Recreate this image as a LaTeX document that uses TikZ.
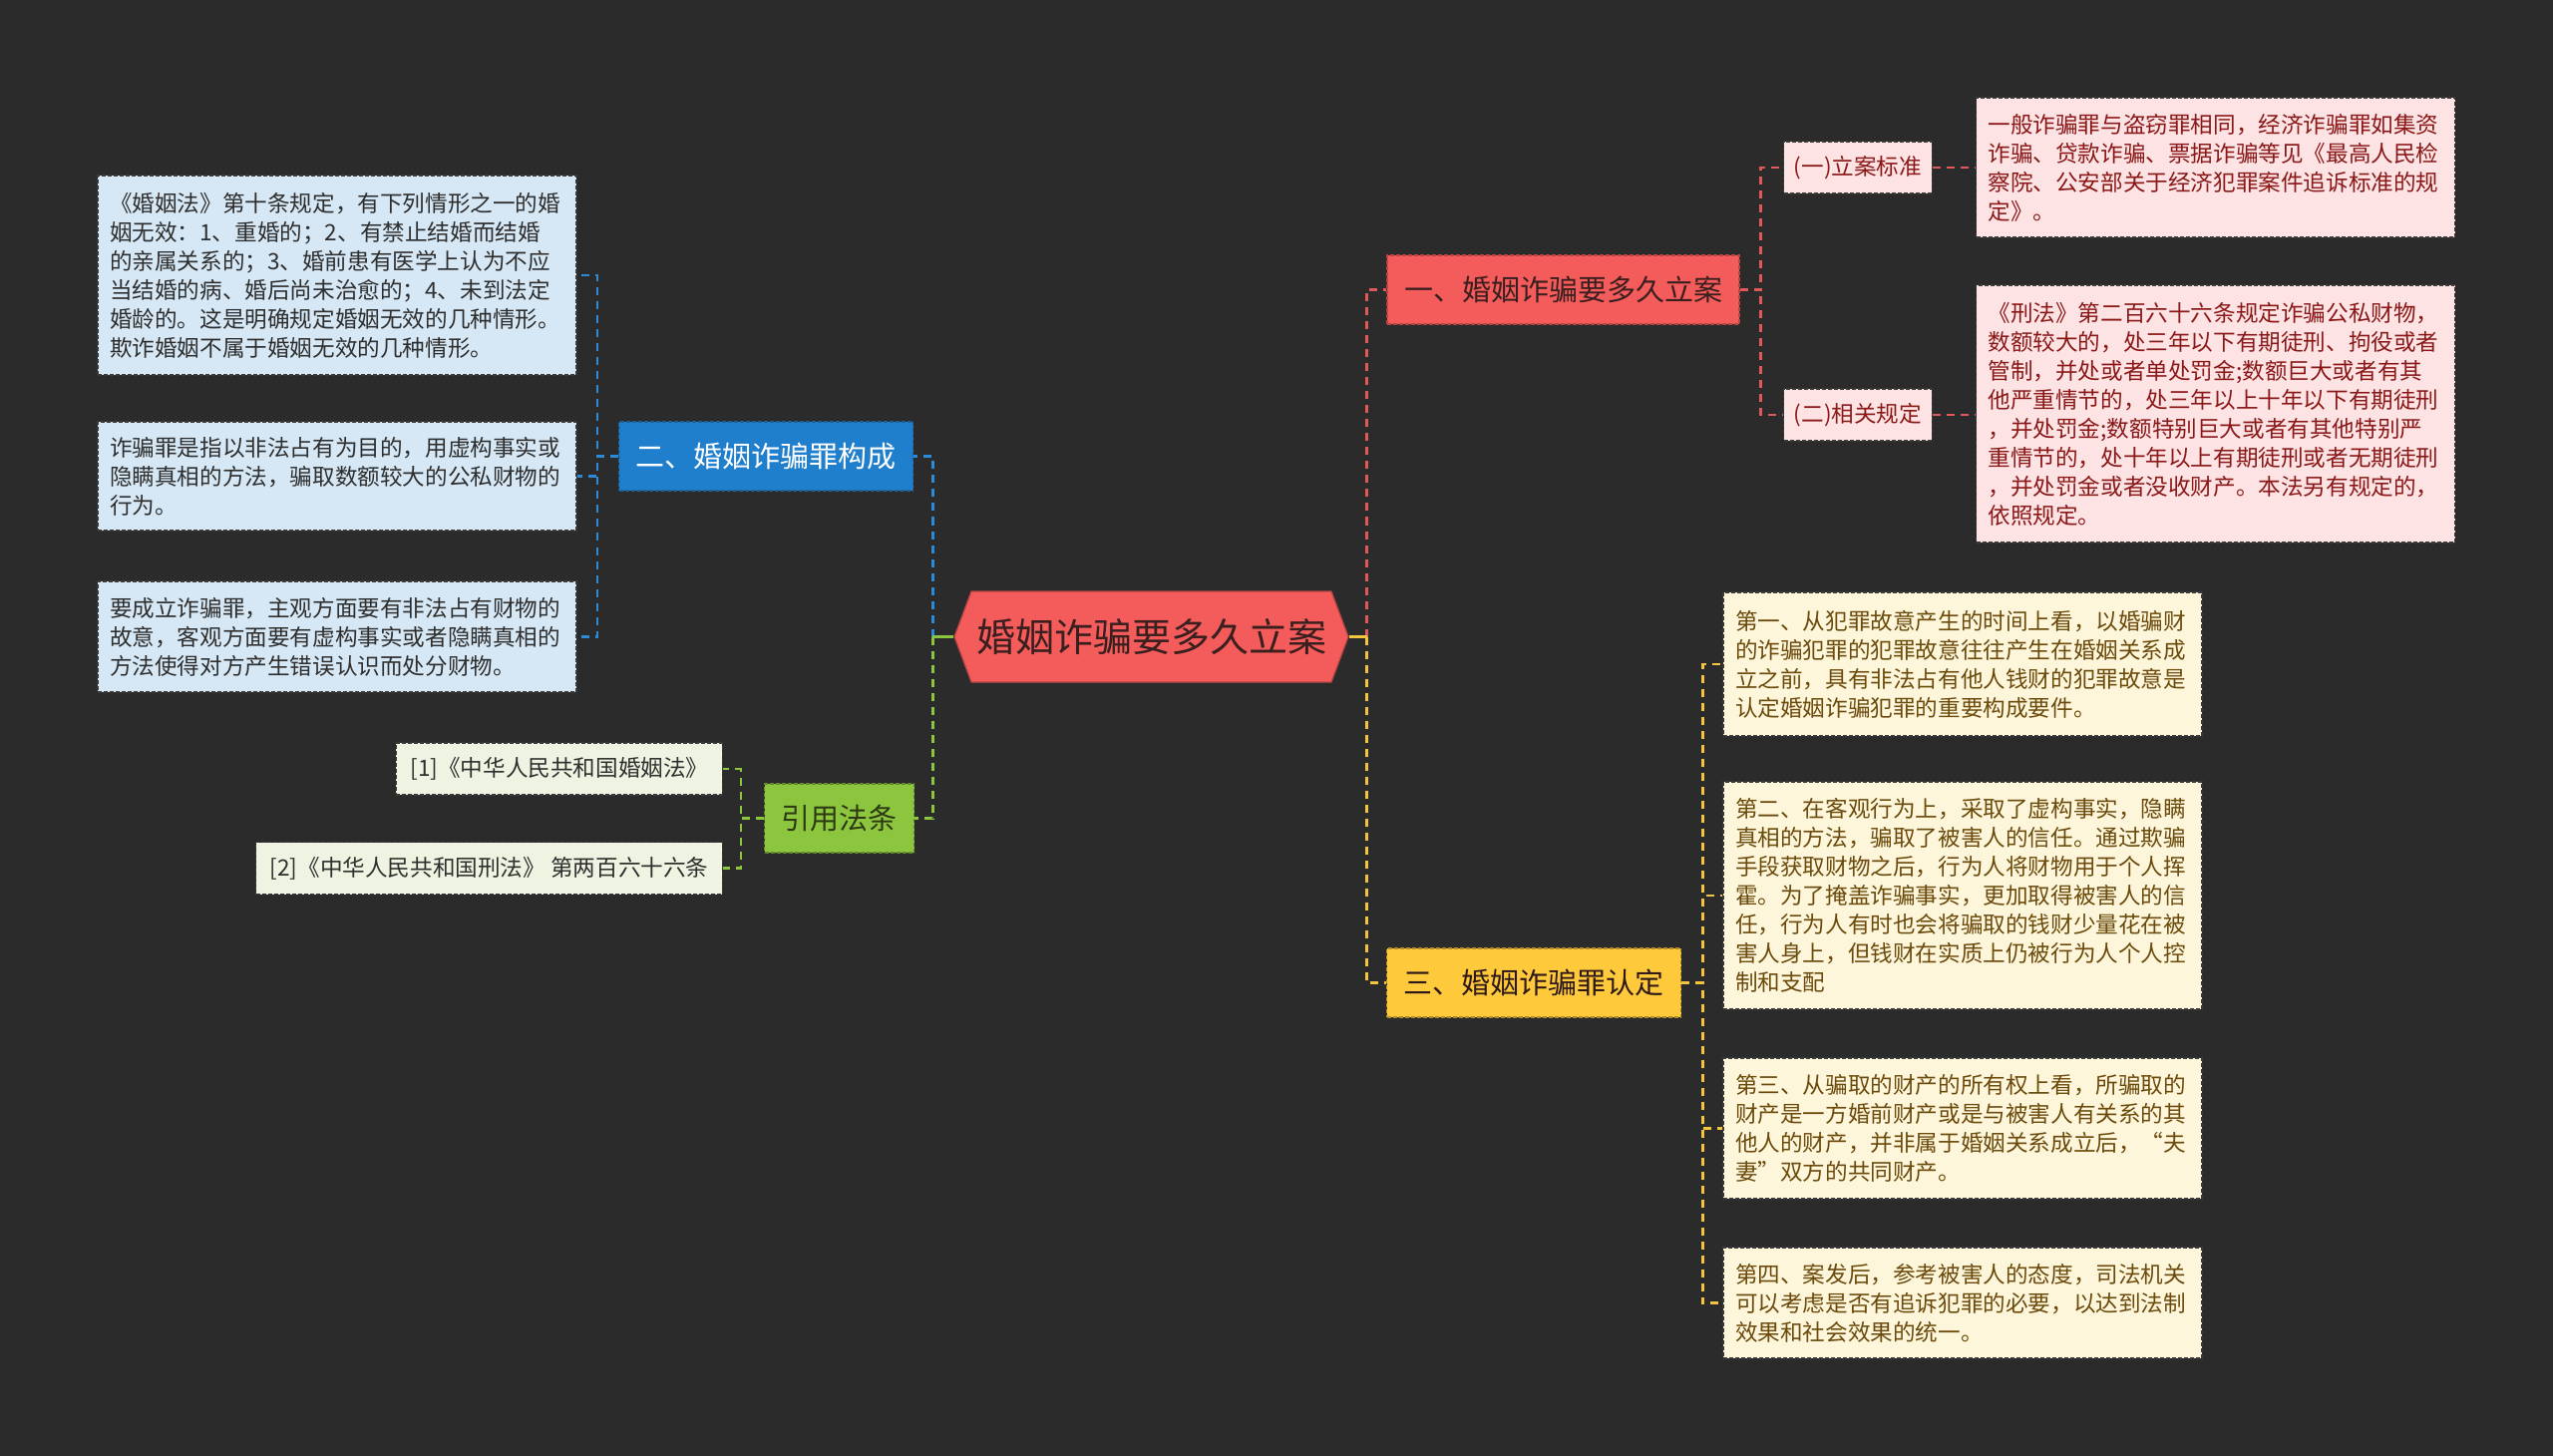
\documentclass[tikz,border=0pt]{standalone}
\usepackage{fontspec}
\setmainfont{Noto Sans CJK SC}
\usetikzlibrary{shapes.symbols}
\definecolor{bgc}{HTML}{2B2B2B}
\definecolor{rootfill}{HTML}{F45B5B}
\definecolor{rootdraw}{HTML}{B84444}
\definecolor{roottext}{HTML}{3A1F1F}
\definecolor{redfill}{HTML}{F45B5B}
\definecolor{redline}{HTML}{E05858}
\definecolor{pinkfill}{HTML}{FDE3E3}
\definecolor{boxdraw}{HTML}{3A3A3A}
\definecolor{redtxt}{HTML}{8A1818}
\definecolor{bluefill}{HTML}{1F7FCC}
\definecolor{blueline}{HTML}{2C8AD8}
\definecolor{lbluefill}{HTML}{D6E8F5}
\definecolor{greenfill}{HTML}{8CC63F}
\definecolor{greenline}{HTML}{8CC63F}
\definecolor{lgreenfill}{HTML}{EEF4E1}
\definecolor{greentxt}{HTML}{2E3A12}
\definecolor{yellowfill}{HTML}{FFC93C}
\definecolor{yellowline}{HTML}{F2C440}
\definecolor{lyellowfill}{HTML}{FDF6DA}
\definecolor{yellowtxt}{HTML}{6B4A0C}
\definecolor{darktxt}{HTML}{2E2E2E}
\tikzset{
  conn/.style={line width=1.4pt, dash pattern=on 4pt off 3pt},
  redconn/.style={conn, draw=redline},
  blueconn/.style={conn, draw=blueline},
  greenconn/.style={conn, draw=greenline},
  yellowconn/.style={conn, draw=yellowline},
  rootst/.style={shape=signal, signal to=west and east, signal pointer angle=139,
    fill=rootfill, draw=rootdraw, line width=0.6pt, text=roottext,
    minimum width=197.5pt, minimum height=45.5pt, inner xsep=2pt,
    font=\fontsize{19.5}{22}\selectfont},
  branch/.style={rectangle, inner xsep=8.5pt, inner ysep=2pt, minimum height=34.5pt,
    font=\fontsize{14.5}{17}\selectfont, line width=0.6pt, dash pattern=on 2pt off 1pt},
  bredst/.style={branch, fill=redfill, draw=rootdraw, text=roottext},
  bbluest/.style={branch, fill=bluefill, draw=blueline!70!black, text=white},
  bgreenst/.style={branch, fill=greenfill, draw=greenfill!70!black, text=greentxt},
  byellowst/.style={branch, fill=yellowfill, draw=yellowfill!70!black, text=roottext!80!black},
  tbox/.style={rectangle, text width=228pt, align=left, inner xsep=6pt, inner ysep=1pt,
    font=\fontsize{11.3}{14.5}\selectfont, line width=0.6pt, dash pattern=on 2pt off 1pt, draw=boxdraw},
  smallbox/.style={rectangle, inner xsep=5pt, inner ysep=1pt, minimum height=26pt,
    font=\fontsize{11.3}{14.5}\selectfont, line width=0.6pt, dash pattern=on 2pt off 1pt, draw=boxdraw},
  redbox/.style={tbox, fill=pinkfill, text=redtxt},
  redsm/.style={smallbox, fill=pinkfill, text=redtxt},
  bluebox/.style={tbox, fill=lbluefill, text=darktxt},
  greensm/.style={smallbox, inner xsep=7pt, fill=lgreenfill, text=darktxt},
  yellowbox/.style={tbox, fill=lyellowfill, text=yellowtxt},
}
\begin{document}
\begin{tikzpicture}[x=0.5pt,y=-0.5pt]
\fill[bgc] (0,0) rectangle (2560,1460);
\useasboundingbox (0,0) rectangle (2560,1460);

% main nodes
\node[rootst] (root) at (1154.5,638.5) {婚姻诈骗要多久立案};
\node[bredst] (b1) at (1567.5,290.5) {一、婚姻诈骗要多久立案};
\node[bbluest] (b2) at (768,457.5) {二、婚姻诈骗罪构成};
\node[bgreenst] (b3) at (841.5,820.5) {引用法条};
\node[byellowst] (b4) at (1538,985.5) {三、婚姻诈骗罪认定};

% red subtree
\node[redsm] (r1) at (1863,168) {(一)立案标准};
\node[redsm] (r2) at (1863,416) {(二)相关规定};
\node[redbox, minimum height=70pt] (ra) at (2221.5,168) {一般诈骗罪与盗窃罪相同，经济诈骗罪如集资\\诈骗、贷款诈骗、票据诈骗等见《最高人民检\\察院、公安部关于经济犯罪案件追诉标准的规\\定》。};
\node[redbox, minimum height=129pt] (rb) at (2221.5,415) {《刑法》第二百六十六条规定诈骗公私财物，\\数额较大的，处三年以下有期徒刑、拘役或者\\管制，并处或者单处罚金;数额巨大或者有其\\他严重情节的，处三年以上十年以下有期徒刑\\，并处罚金;数额特别巨大或者有其他特别严\\重情节的，处十年以上有期徒刑或者无期徒刑\\，并处罚金或者没收财产。本法另有规定的，\\依照规定。};

% blue subtree
\node[bluebox, minimum height=100pt] (c1) at (338,276) {《婚姻法》第十条规定，有下列情形之一的婚\\姻无效：1、重婚的；2、有禁止结婚而结婚\\的亲属关系的；3、婚前患有医学上认为不应\\当结婚的病、婚后尚未治愈的；4、未到法定\\婚龄的。这是明确规定婚姻无效的几种情形。\\欺诈婚姻不属于婚姻无效的几种情形。};
\node[bluebox, minimum height=54.5pt] (c2) at (338,477.5) {诈骗罪是指以非法占有为目的，用虚构事实或\\隐瞒真相的方法，骗取数额较大的公私财物的\\行为。};
\node[bluebox, minimum height=55.5pt] (c3) at (338,638.5) {要成立诈骗罪，主观方面要有非法占有财物的\\故意，客观方面要有虚构事实或者隐瞒真相的\\方法使得对方产生错误认识而处分财物。};

% green subtree
\node[greensm, anchor=east] (l1) at (725,771) {[1]《中华人民共和国婚姻法》};
\node[greensm, anchor=east] (l2) at (725,870.5) {[2]《中华人民共和国刑法》 第两百六十六条};

% yellow subtree
\node[yellowbox, minimum height=72pt] (d1) at (1968,666) {第一、从犯罪故意产生的时间上看，以婚骗财\\的诈骗犯罪的犯罪故意往往产生在婚姻关系成\\立之前，具有非法占有他人钱财的犯罪故意是\\认定婚姻诈骗犯罪的重要构成要件。};
\node[yellowbox, minimum height=114pt] (d2) at (1968,898) {第二、在客观行为上，采取了虚构事实，隐瞒\\真相的方法，骗取了被害人的信任。通过欺骗\\手段获取财物之后，行为人将财物用于个人挥\\霍。为了掩盖诈骗事实，更加取得被害人的信\\任，行为人有时也会将骗取的钱财少量花在被\\害人身上，但钱财在实质上仍被行为人个人控\\制和支配};
\node[yellowbox, minimum height=70.5pt] (d3) at (1968,1131.5) {第三、从骗取的财产的所有权上看，所骗取的\\财产是一方婚前财产或是与被害人有关系的其\\他人的财产，并非属于婚姻关系成立后，“夫\\妻”双方的共同财产。};
\node[yellowbox, minimum height=55.5pt] (d4) at (1968,1306.5) {第四、案发后，参考被害人的态度，司法机关\\可以考虑是否有追诉犯罪的必要，以达到法制\\效果和社会效果的统一。};

% trunk points next to the root
\coordinate (rt) at ([xshift=9pt]root.east);
\coordinate (lt) at ([xshift=-10.5pt]root.west);

% connectors from root
\draw[redconn] (rt) |- (b1.west);
\draw[yellowconn] (rt) |- (b4.west);
\draw[blueconn] (lt) |- (b2.east);
\draw[greenconn] (lt) |- (b3.east);
\draw[draw=yellowline, line width=1.4pt] (root.east) -- (rt);
\draw[draw=greenline, line width=1.4pt] (root.west) -- (lt);

% red
\draw[redconn] (b1.east) -- ++(21,0) |- (r1.west);
\draw[redconn] (b1.east) -- ++(21,0) |- (r2.west);
\draw[redconn] (r1.east) -- (ra.west |- r1.east);
\draw[redconn] (r2.east) -- (rb.west |- r2.east);

% blue
\draw[blueconn] (b2.west) -- ++(-21,0) |- (c1.east);
\draw[blueconn] (b2.west) -- ++(-21,0) |- (c2.east);
\draw[blueconn] (b2.west) -- ++(-21,0) |- (c3.east);

% green
\draw[greenconn] (b3.west) -- ++(-23,0) |- (l1.east);
\draw[greenconn] (b3.west) -- ++(-23,0) |- (l2.east);

% yellow
\draw[yellowconn] (b4.east) -- ++(21,0) |- (d1.west);
\draw[yellowconn] (b4.east) -- ++(21,0) |- (d2.west);
\draw[yellowconn] (b4.east) -- ++(21,0) |- (d3.west);
\draw[yellowconn] (b4.east) -- ++(21,0) |- (d4.west);
\end{tikzpicture}
\end{document}
